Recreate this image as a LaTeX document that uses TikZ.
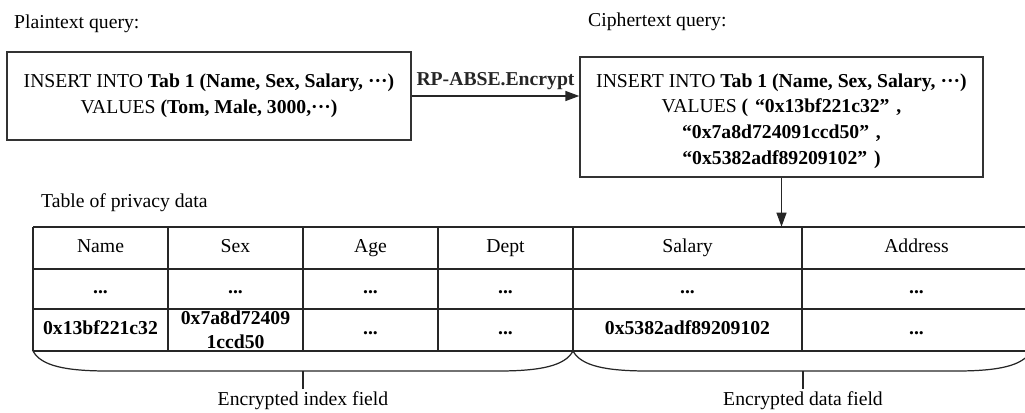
\documentclass[tikz,border=0pt]{standalone}
\usepackage{fontspec}
\setmainfont{Liberation Serif}
\usetikzlibrary{arrows.meta}

\newcommand{\txtsize}{\fontsize{11.2}{14.6}\selectfont}

\tikzset{
  qbox/.style={draw=black!80, line width=.8pt, align=center, inner sep=0pt},
  cell/.style={font=\txtsize\bfseries, text height=.7em, text depth=.2em,
    inner sep=0pt, minimum height=8.4mm},
  grid/.style={black!85, line width=.8pt},
  brace/.style={black!85, line width=.7pt},
  tip/.style={-{Triangle[length=2.8mm,width=2mm]}}
}

\begin{document}
\begin{tikzpicture}[x=.2mm,y=-.2mm, every node/.style={font=\txtsize}]
  \useasboundingbox (0,0) rectangle (1025,412);
  \clip (0,0) rectangle (1025,412);

  % the two queries
  \node[anchor=west] (ptitle) at (8,24) {Plaintext query:};
  \node[qbox, minimum width=80.8mm, minimum height=17.6mm] (plain) at (209,96)
    {INSERT INTO \textbf{Tab 1 (Name, Sex, Salary, ···)}\\
     VALUES \textbf{(Tom, Male, 3000,···)}};

  \node[anchor=west] (ctitle) at (582,22) {Ciphertext query:};
  \node[qbox, minimum width=80.6mm, minimum height=24mm] (cipher) at (781.5,117)
    {\rule{0pt}{1.1em}INSERT INTO \textbf{Tab 1 (Name, Sex, Salary, ···)}\\
     VALUES \textbf{(\hspace{.35em}“0x13bf221c32”\hspace{.35em},}\\
     \textbf{“0x7a8d724091ccd50”\hspace{.35em},}\\
     \textbf{“0x5382adf89209102”\hspace{.35em})}};

  \draw[grid, tip] (plain.east) -- node[midway, above, font=\txtsize\bfseries] (enc)
    {RP-ABSE.Encrypt} (plain.east -| cipher.west);

  % table
  \node[anchor=west] (ttitle) at (35,203) {Table of privacy data};
  \foreach \y in {227,269,351}{
    \draw[grid] (33,\y) -- (1031,\y);
  }
  \draw[grid, line width=1.4pt] (33,309) -- (1031,309);
  \foreach \x in {33,168,303,438,573,802,1031}{
    \draw[grid] (\x,227) -- (\x,351);
  }
  \foreach \x/\t [count=\i] in {100.5/Name,235.5/Sex,370.5/Age,505.5/Dept,687.5/Salary,916.5/Address}{
    \node[cell, font=\txtsize] (h\i) at (\x,248) {\t};
    \node[cell] (m\i) at (\x,289) {...};
  }
  \node[cell] (r1) at (100.5,330) {0x13bf221c32};
  \node[align=center, inner sep=0pt, font=\fontsize{11.2}{13.6}\selectfont\bfseries] (r2)
    at (235.5,330) {0x7a8d72409\\1ccd50};
  \node[cell] (r3) at (370.5,330) {...};
  \node[cell] (r4) at (505.5,330) {...};
  \node[cell] (r5) at (687.5,330) {0x5382adf89209102};
  \node[cell] (r6) at (916.5,330) {...};

  \draw[grid, tip] (cipher.south) -- (cipher.south |- h5.north);

  % field braces
  \draw[brace] (33,351) .. controls (41,366) and (66,371) .. (108,371) -- (498,371)
    .. controls (540,371) and (565,366) .. (573,351);
  \draw[brace] (573,351) .. controls (581,366) and (606,371) .. (648,371) -- (956,371)
    .. controls (998,371) and (1023,366) .. (1031,351);
  \coordinate (ib) at (303,371);
  \coordinate (db) at (803,371);
  \node[anchor=north, inner sep=1.5pt] (ilab) at (303,389) {Encrypted index field};
  \node[anchor=north, inner sep=1.5pt] (dlab) at (803,389) {Encrypted data field};
  \draw[brace] (ib) -- (ilab);
  \draw[brace] (db) -- (dlab);
\end{tikzpicture}
\end{document}
